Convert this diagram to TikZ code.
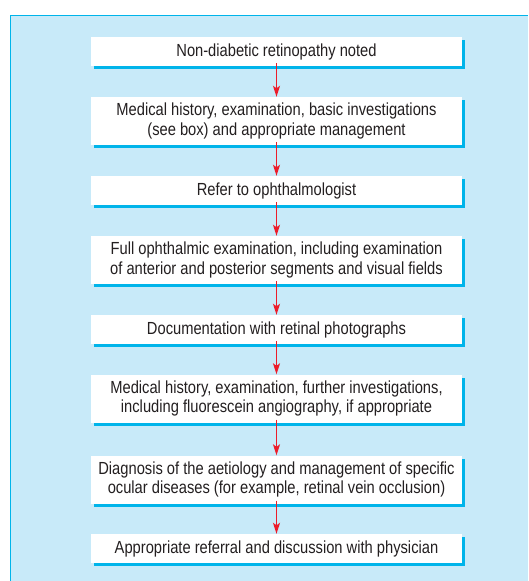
\documentclass[tikz,border=0pt]{standalone}
\usepackage{fontspec}
\setmainfont{Liberation Sans}[FakeStretch=0.84]
\usetikzlibrary{arrows.meta,shadows}
\definecolor{panelfill}{HTML}{C8EAF9}
\definecolor{cyanline}{HTML}{00B4EA}
\definecolor{arrowred}{HTML}{EC1C2A}
\definecolor{textc}{HTML}{231F20}
\tikzset{
  flowbox/.style={draw=none, fill=white, minimum width=371pt, inner sep=0pt, align=center,
    text=textc, font=\fontsize{17.5}{19.5}\selectfont,
    drop shadow={shadow xshift=3pt, shadow yshift=-3pt, fill=cyanline, opacity=1}},
  onel/.style={flowbox, minimum height=29pt},
  twol/.style={flowbox, minimum height=48pt},
  flowarrow/.style={draw=arrowred, line width=1.4pt, -{Stealth[length=11pt, width=7pt, inset=2.5pt]}, shorten <=-3pt},
}
\begin{document}
\begin{tikzpicture}[x=1pt,y=1pt]
\useasboundingbox (0,0) rectangle (528,-581);
\fill[panelfill] (10,-15) rectangle (528,-581);
\draw[cyanline, line width=1pt] (10,-581) -- (10,-15) -- (528,-15);
\node[onel] (b1) at (276.5,-51.5) {Non-diabetic retinopathy noted};
\node[twol] (b2) at (276.5,-121) {Medical history, examination, basic investigations\\(see box) and appropriate management};
\node[onel] (b3) at (276.5,-190.5) {Refer to ophthalmologist};
\node[twol] (b4) at (276.5,-260) {Full ophthalmic examination, including examination\\of anterior and posterior segments and visual fields};
\node[onel] (b5) at (276.5,-329.5) {Documentation with retinal photographs};
\node[twol] (b6) at (276.5,-398.5) {Medical history, examination, further investigations,\\including fluorescein angiography, if appropriate};
\node[twol] (b7) at (276.5,-479.5) {Diagnosis of the aetiology and management of specific\\ocular diseases (for example, retinal vein occlusion)};
\node[onel] (b8) at (276.5,-548.5) {Appropriate referral and discussion with physician};
\foreach \a/\b in {b1/b2,b2/b3,b3/b4,b4/b5,b5/b6,b6/b7,b7/b8}
  \draw[flowarrow] (\a.south) -- (\b.north);
\end{tikzpicture}
\end{document}
